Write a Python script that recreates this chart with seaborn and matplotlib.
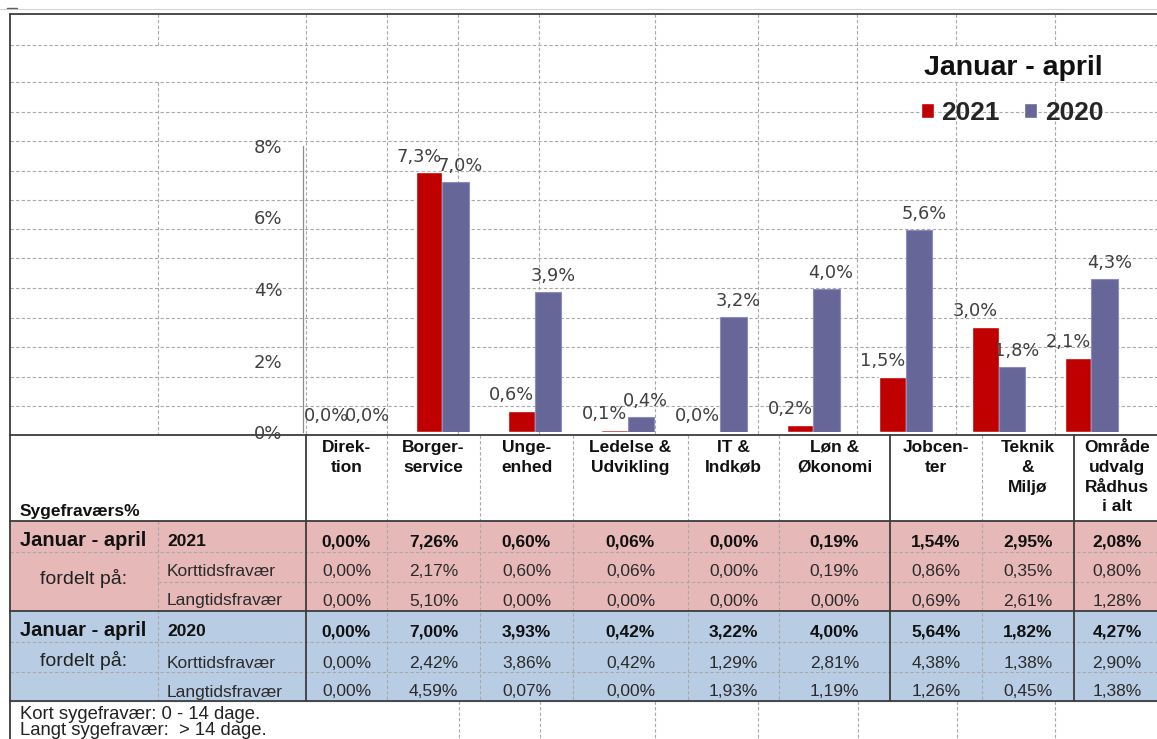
import pandas as pd
import seaborn as sns
import matplotlib.pyplot as plt
from matplotlib.patches import Rectangle

# data read from the spreadsheet
afdelinger = ["Direk-\ntion", "Borger-\nservice", "Unge-\nenhed", "Ledelse &\nUdvikling",
              "IT &\nIndkøb", "Løn &\nØkonomi", "Jobcen-\nter", "Teknik\n&\nMiljø",
              "Område\nudvalg\nRådhus\ni alt"]
aar = ["2021", "2020"]
total_2021 = [0.00, 7.26, 0.60, 0.06, 0.00, 0.19, 1.54, 2.95, 2.08]
kort_2021 = [0.00, 2.17, 0.60, 0.06, 0.00, 0.19, 0.86, 0.35, 0.80]
lang_2021 = [0.00, 5.10, 0.00, 0.00, 0.00, 0.00, 0.69, 2.61, 1.28]
total_2020 = [0.00, 7.00, 3.93, 0.42, 3.22, 4.00, 5.64, 1.82, 4.27]
kort_2020 = [0.00, 2.42, 3.86, 0.42, 1.29, 2.81, 4.38, 1.38, 2.90]
lang_2020 = [0.00, 4.59, 0.07, 0.00, 1.93, 1.19, 1.26, 0.45, 1.38]
y_ticks = [0, 2, 4, 6, 8]

sns.set_style("white")
plt.rcParams['font.family'] = ['DejaVu Sans']
ARIAL = ['Liberation Sans', 'DejaVu Sans']
NARROW = ['Liberation Sans Narrow', 'Liberation Sans', 'DejaVu Sans']

W, H = 1157, 739
fig = plt.figure(figsize=(W / 100, H / 100), dpi=100)

# spreadsheet background in pixel coordinates
bg = fig.add_axes([0, 0, 1, 1])
bg.set_xlim(0, W)
bg.set_ylim(H, 0)
bg.axis('off')

GRID = '#a8a8a8'
DARK = '#3c3c3c'


def dash_h(y, x0=10, x1=W):
    bg.plot([x0, x1], [y, y], color=GRID, lw=0.8, ls=(0, (3, 2)), zorder=1)


def dash_v(x, y0, y1):
    bg.plot([x, x], [y0, y1], color=GRID, lw=0.8, ls=(0, (3, 2)), zorder=1)


def solid_h(y, x0=10, x1=W):
    bg.plot([x0, x1], [y, y], color=DARK, lw=1.3, zorder=2)


def solid_v(x, y0, y1):
    bg.plot([x, x], [y0, y1], color=DARK, lw=1.3, zorder=2)


# coloured table blocks
bg.add_patch(Rectangle((10, 521), W - 10, 90, color='#E6B8B7', zorder=0))
bg.add_patch(Rectangle((10, 611), W - 10, 90, color='#B8CCE4', zorder=0))

# grid above the table
for y in [45, 82, 112, 141, 171, 200, 229, 258, 288, 318, 347, 377, 406]:
    dash_h(y)
for x in [158, 306, 387, 458, 539, 655, 758, 857, 956, 1055]:
    if x in (158, 956, 1055):
        dash_v(x, 14, 45)
        dash_v(x, 82, 435)
    else:
        dash_v(x, 14, 435)

# table grid
tcols = [306, 387, 480, 573, 688, 779, 890, 982, 1074, 1160]
for x in [387, 480, 573, 688, 779, 982]:
    dash_v(x, 435, 701)
dash_v(158, 521, 701)
for x in [306, 890, 1074]:
    solid_v(x, 435, 701)
dash_h(552)
dash_h(582, x0=158)
dash_h(642)
dash_h(672)
for y in [435, 521, 611, 701]:
    solid_h(y)

# footer grid
for x in [459, 540, 655, 758, 858, 957, 1055]:
    dash_v(x, 701, H)

# outer border
bg.plot([0, W], [9, 9], color='#d4d4d4', lw=0.8, zorder=1)
bg.plot([7, 17], [8, 8], color='#606060', lw=1.0, zorder=2)
solid_h(14)
solid_v(10, 14, H)

# table header
centers = [(a + b) / 2 for a, b in zip(tcols[:-1], tcols[1:])]
for c, name in zip(centers, afdelinger):
    bg.text(c, 440, name, ha='center', va='top', fontsize=12.5, weight='bold',
            family=ARIAL, linespacing=1.4, color='#111111', zorder=3)
bg.text(20, 516, "Sygefraværs%", fontsize=12.5, weight='bold', family=ARIAL,
        va='baseline', color='#111111', zorder=3)

# table rows
rows = [(total_2021, True, 546.5), (kort_2021, False, 575.5), (lang_2021, False, 605.5),
        (total_2020, True, 636.5), (kort_2020, False, 667.5), (lang_2020, False, 696.5)]
for vals, bold, yb in rows:
    for c, v in zip(centers, vals):
        bg.text(c, yb, f"{v:.2f}%".replace('.', ','), ha='center', va='baseline',
                fontsize=12.5, weight='bold' if bold else 'normal', family=ARIAL,
                color='#111111' if bold else '#2b2b2b', zorder=3)

for yr, yb in zip(aar, [546.5, 636.5]):
    bg.text(20, yb, "Januar - april", fontsize=14.5, weight='bold', family=ARIAL,
            va='baseline', color='#111111', zorder=3)
    bg.text(167, yb, yr, fontsize=12.5, weight='bold', family=ARIAL,
            va='baseline', color='#111111', zorder=3)
for yb in [584, 666]:
    bg.text(84, yb, "fordelt på:", fontsize=14, family=ARIAL, ha='center',
            va='baseline', color='#222222', zorder=3)
for txt, ys in [("Korttidsfravær", [575.5, 667.5]), ("Langtidsfravær", [605.5, 696.5])]:
    for yb in ys:
        bg.text(167, yb, txt, fontsize=12.5, family=ARIAL, va='baseline',
                color='#2b2b2b', zorder=3)

bg.text(20, 719, "Kort sygefravær: 0 - 14 dage.", fontsize=13.3, family=NARROW,
        va='baseline', color='#222222', zorder=3)
bg.text(20, 735, "Langt sygefravær:  > 14 dage.", fontsize=13.3, family=NARROW,
        va='baseline', color='#222222', zorder=3)

# chart on top, transparent
ax = fig.add_axes([303 / W, (H - 432) / H, 834.7 / W, 286 / H])
df = pd.DataFrame({
    "Afdeling": afdelinger * 2,
    "År": [aar[0]] * len(afdelinger) + [aar[1]] * len(afdelinger),
    "Procent": total_2021 + total_2020,
})
sns.barplot(data=df, x="Afdeling", y="Procent", hue="År", order=afdelinger,
            hue_order=aar, palette={"2021": "#C00000", "2020": "#666699"},
            width=0.57, saturation=1, errorbar=None, ax=ax)

ax.patch.set_visible(False)
ax.set_xlim(-0.5, len(afdelinger) - 0.5)
ax.set_ylim(0, 8)
ax.set_yticks(y_ticks)
ax.set_yticklabels([f"{t}%" for t in y_ticks])
ax.set_xticks([])
ax.set_xlabel('')
ax.set_ylabel('')
for s in ['top', 'right', 'bottom']:
    ax.spines[s].set_visible(False)
ax.spines['left'].set_color('#8c8c8c')
ax.spines['left'].set_linewidth(0.9)
ax.tick_params(axis='y', length=4.3, width=0.9, color='#8c8c8c', pad=10.5,
               labelsize=13, labelcolor='#404040')

for bar in ax.containers[1]:
    bar.set_edgecolor('#8d8dbd')
    bar.set_linewidth(0.8)

# data labels
for cont, vals, dx in zip(ax.containers, [total_2021, total_2020], [-7, 3.5]):
    for bar, v in zip(cont, vals):
        ax.annotate(f"{v:.1f}%".replace('.', ','),
                    (bar.get_x() + bar.get_width() / 2, bar.get_height()),
                    xytext=(dx, 5), textcoords='offset points', ha='center',
                    va='bottom', fontsize=12.8, color='#404040',
                    annotation_clip=False)

sns.move_legend(ax, "center", bbox_to_anchor=(1012 / W, 1 - 113 / H),
                bbox_transform=fig.transFigure, ncol=2, title=None, frameon=False,
                prop={'family': ARIAL, 'weight': 'bold', 'size': 19},
                handlelength=0.5, handleheight=0.5, handletextpad=0.3,
                columnspacing=0.9, borderpad=0)

fig.text(1013 / W, 1 - 75 / H, "Januar - april", ha='center', va='baseline',
         fontsize=20.5, weight='bold', family=ARIAL, color='#111111')

fig.savefig("out.png", dpi=100)
